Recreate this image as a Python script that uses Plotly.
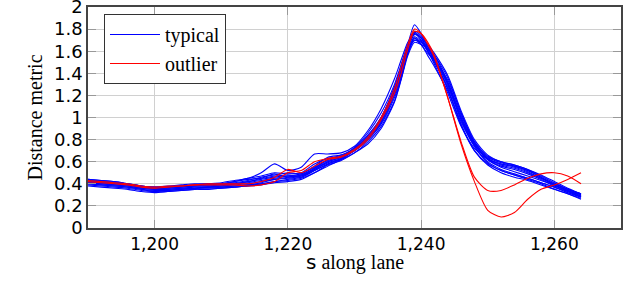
import plotly.graph_objects as go

s_pos = [1190,1192,1194,1196,1198,1200,1202,1204,1206,1208,1210,1212,1214,1216,1218,1220,1222,1224,1226,1228,1230,1232,1234,1236,1237,1238,1239,1240,1241,1242,1244,1246,1248,1250,1252,1254,1256,1258,1260,1262,1264]

typical_1 = [0.44,0.43,0.42,0.40,0.38,0.37,0.37,0.38,0.39,0.40,0.41,0.43,0.45,0.50,0.58,0.52,0.55,0.67,0.67,0.68,0.74,0.88,1.08,1.35,1.52,1.68,1.76,1.72,1.60,1.48,1.22,0.92,0.72,0.62,0.58,0.56,0.52,0.46,0.40,0.35,0.31]
typical_2 = [0.38,0.37,0.36,0.35,0.33,0.32,0.33,0.34,0.35,0.35,0.36,0.37,0.38,0.40,0.42,0.44,0.46,0.52,0.58,0.62,0.68,0.78,0.92,1.15,1.35,1.58,1.72,1.68,1.64,1.56,1.32,1.00,0.76,0.62,0.55,0.51,0.47,0.43,0.39,0.34,0.29]
typical_3 = [0.41,0.40,0.39,0.38,0.36,0.35,0.35,0.36,0.36,0.37,0.37,0.38,0.39,0.41,0.44,0.45,0.47,0.54,0.62,0.66,0.72,0.84,1.00,1.28,1.46,1.66,1.84,1.76,1.64,1.52,1.26,0.94,0.70,0.57,0.50,0.46,0.43,0.39,0.35,0.31,0.27]
typical_4 = [0.43,0.42,0.41,0.40,0.38,0.37,0.38,0.39,0.40,0.40,0.40,0.41,0.43,0.46,0.48,0.50,0.49,0.56,0.64,0.66,0.70,0.80,0.96,1.22,1.40,1.60,1.72,1.66,1.58,1.52,1.34,1.04,0.78,0.64,0.59,0.56,0.52,0.46,0.39,0.33,0.28]
typical_5 = [0.40,0.39,0.38,0.37,0.35,0.33,0.34,0.35,0.36,0.36,0.37,0.38,0.39,0.40,0.42,0.43,0.45,0.50,0.56,0.62,0.70,0.80,0.95,1.20,1.38,1.60,1.70,1.66,1.56,1.46,1.24,0.96,0.74,0.60,0.53,0.49,0.45,0.41,0.37,0.33,0.28]
typical_6 = [0.42,0.41,0.40,0.39,0.37,0.36,0.36,0.37,0.38,0.39,0.40,0.42,0.44,0.45,0.47,0.48,0.47,0.53,0.59,0.63,0.72,0.83,1.00,1.26,1.44,1.64,1.78,1.74,1.64,1.54,1.30,0.98,0.75,0.63,0.58,0.55,0.51,0.45,0.39,0.34,0.30]
typical_7 = [0.39,0.38,0.37,0.36,0.34,0.33,0.33,0.34,0.35,0.35,0.36,0.37,0.38,0.39,0.41,0.42,0.44,0.50,0.57,0.61,0.68,0.76,0.90,1.14,1.34,1.56,1.68,1.66,1.62,1.56,1.36,1.04,0.78,0.65,0.60,0.57,0.53,0.47,0.41,0.35,0.30]
typical_8 = [0.43,0.42,0.41,0.39,0.37,0.36,0.37,0.38,0.39,0.39,0.40,0.42,0.45,0.47,0.50,0.49,0.50,0.58,0.63,0.65,0.73,0.86,1.04,1.30,1.48,1.66,1.76,1.70,1.60,1.50,1.26,0.93,0.70,0.58,0.52,0.48,0.45,0.41,0.37,0.32,0.28]
typical_9 = [0.41,0.40,0.39,0.38,0.36,0.35,0.35,0.36,0.37,0.37,0.38,0.39,0.40,0.42,0.44,0.46,0.48,0.53,0.60,0.64,0.71,0.81,0.97,1.24,1.42,1.62,1.75,1.72,1.66,1.58,1.38,1.06,0.80,0.66,0.60,0.57,0.53,0.48,0.42,0.36,0.31]
typical_10 = [0.40,0.39,0.38,0.37,0.35,0.34,0.34,0.35,0.36,0.37,0.38,0.40,0.42,0.44,0.46,0.47,0.46,0.52,0.58,0.63,0.70,0.80,0.94,1.18,1.36,1.58,1.70,1.68,1.60,1.50,1.28,0.98,0.74,0.59,0.52,0.48,0.44,0.40,0.35,0.31,0.26]
typical_11 = [0.42,0.41,0.40,0.39,0.37,0.36,0.36,0.37,0.38,0.38,0.39,0.40,0.41,0.43,0.45,0.47,0.49,0.55,0.61,0.65,0.72,0.82,0.99,1.26,1.44,1.64,1.77,1.72,1.62,1.52,1.30,1.00,0.76,0.62,0.56,0.53,0.49,0.44,0.38,0.34,0.29]
typical_12 = [0.44,0.43,0.42,0.40,0.38,0.37,0.37,0.38,0.38,0.38,0.39,0.40,0.42,0.45,0.49,0.46,0.48,0.54,0.60,0.64,0.71,0.82,0.98,1.22,1.42,1.60,1.73,1.69,1.62,1.53,1.32,1.02,0.77,0.63,0.57,0.54,0.50,0.45,0.40,0.35,0.31]

outlier_1 = [0.43,0.42,0.41,0.40,0.38,0.37,0.38,0.38,0.39,0.40,0.40,0.40,0.40,0.42,0.46,0.53,0.50,0.56,0.62,0.64,0.70,0.80,0.98,1.22,1.40,1.62,1.78,1.76,1.68,1.56,1.18,0.76,0.42,0.16,0.10,0.14,0.26,0.35,0.39,0.44,0.50]
outlier_2 = [0.42,0.41,0.40,0.39,0.37,0.36,0.37,0.38,0.39,0.39,0.39,0.39,0.38,0.39,0.42,0.50,0.52,0.60,0.63,0.65,0.71,0.82,1.00,1.26,1.46,1.66,1.80,1.76,1.66,1.54,1.18,0.78,0.46,0.34,0.34,0.39,0.45,0.49,0.50,0.47,0.40]

typical = [typical_1, typical_2, typical_3, typical_4, typical_5, typical_6,
           typical_7, typical_8, typical_9, typical_10, typical_11, typical_12]
outliers = [outlier_1, outlier_2]

x_ticks = [1200, 1220, 1240, 1260]
x_tick_labels = ["1,200", "1,220", "1,240", "1,260"]
y_ticks = [0, 0.2, 0.4, 0.6, 0.8, 1, 1.2, 1.4, 1.6, 1.8, 2]
y_tick_labels = ["0", "0.2", "0.4", "0.6", "0.8", "1", "1.2", "1.4", "1.6", "1.8", "2"]

fig = go.Figure()
for i, ys in enumerate(typical):
    fig.add_trace(go.Scatter(x=s_pos, y=ys, mode="lines", name="typical",
                             legendgroup="typical", showlegend=(i == 0),
                             line=dict(color="#0000ff", width=1.1, shape="spline", smoothing=0.7)))
for i, ys in enumerate(outliers):
    fig.add_trace(go.Scatter(x=s_pos, y=ys, mode="lines", name="outlier",
                             legendgroup="outlier", showlegend=(i == 0),
                             line=dict(color="#ff0000", width=1.1, shape="spline", smoothing=0.7)))

fig.add_annotation(text="<span style='font-family:DejaVu Sans'>s</span> along lane",
                   xref="paper", yref="paper", x=0.5, y=-0.155, xanchor="center", yanchor="middle",
                   showarrow=False, font=dict(family="Liberation Serif", size=20, color="#000"))

fig.add_annotation(text="Fig. 4: Evaluation of the CAVI-based anomaly detection on outliers and normal trajectories",
                   xref="paper", yref="paper", x=-0.16, y=-0.324, xanchor="left", yanchor="top",
                   showarrow=False, font=dict(family="Liberation Serif", size=18, color="#000"))

fig.update_layout(
    width=640, height=304,
    margin=dict(l=88, r=19, t=7, b=76, autoexpand=False),
    paper_bgcolor="white", plot_bgcolor="white",
    showlegend=True,
    legend=dict(x=0.03, y=0.968, xanchor="left", yanchor="top",
                bgcolor="white", bordercolor="#333333", borderwidth=1,
                font=dict(family="Liberation Serif", size=20, color="#000"),
                tracegroupgap=0, itemwidth=50),
    xaxis=dict(range=[1190, 1270], tickvals=x_ticks, ticktext=x_tick_labels,
               showgrid=True, gridcolor="#d0d0d0", gridwidth=1,
               showline=True, linecolor="#444444", linewidth=1.5, mirror="ticks",
               ticks="inside", ticklen=8, tickcolor="#999999",
               tickfont=dict(family="DejaVu Sans", size=17, color="#000"),
               ticklabeloverflow="allow", automargin=False, zeroline=False),
    yaxis=dict(range=[0, 2], tickvals=y_ticks, ticktext=y_tick_labels,
               showgrid=True, gridcolor="#d0d0d0", gridwidth=1,
               showline=True, linecolor="#444444", linewidth=1.5, mirror="ticks",
               ticks="inside", ticklen=8, tickcolor="#999999",
               tickfont=dict(family="DejaVu Sans", size=18, color="#000"),
               ticklabeloverflow="allow", automargin=False, zeroline=False,
               title=dict(text="Distance metric",
                          font=dict(family="Liberation Serif", size=20, color="#000"), standoff=6)),
)

fig.write_html("out.html", config={"displayModeBar": False},
               post_script="document.body.style.margin='0';document.body.style.padding='0';")
